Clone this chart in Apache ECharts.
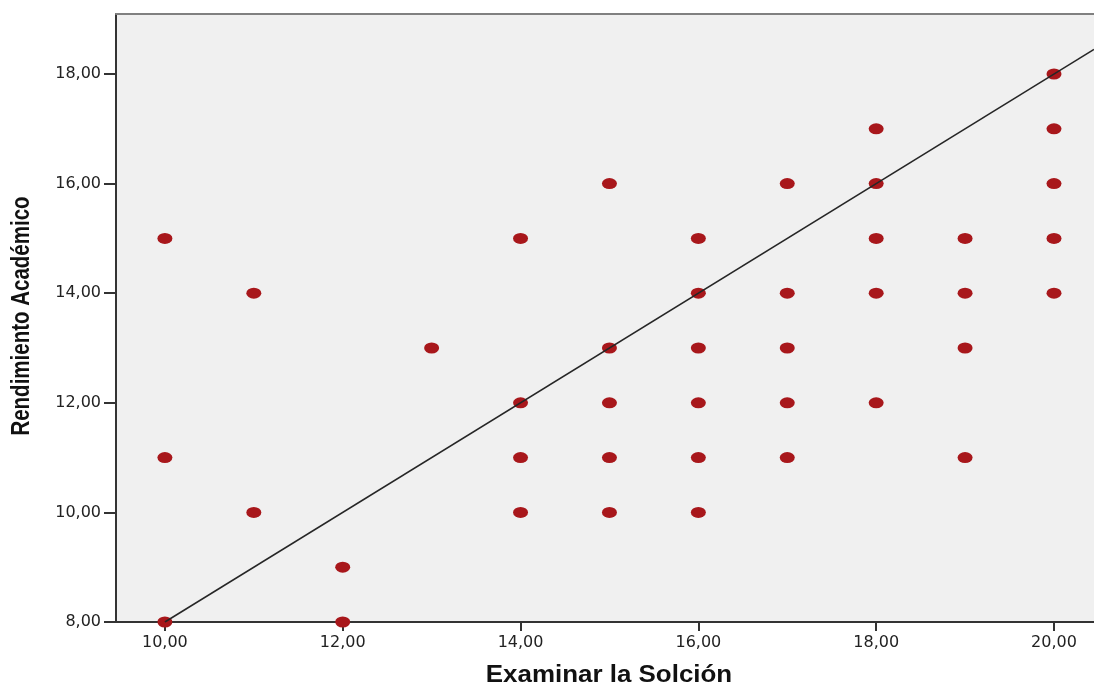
<!DOCTYPE html>
<html><head><meta charset="utf-8">
<script src="https://cdn.jsdelivr.net/npm/echarts@6/dist/echarts.min.js"></script>
<style>html,body{margin:0;padding:0;background:#fff;overflow:hidden}#c{width:1094px;height:682px}</style>
</head><body><div id="c"></div>
<script>
// Examinar la Solción (x) vs Rendimiento Académico (y)
const xValues = [10,10,10, 11,11, 12,12, 13, 14,14,14,14, 15,15,15,15,15, 16,16,16,16,16,16, 17,17,17,17,17, 18,18,18,18,18, 19,19,19,19, 20,20,20,20,20];
const yValues = [15,11,8, 14,10, 9,8, 13, 15,12,11,10, 16,13,12,11,10, 15,14,13,12,11,10, 16,14,13,12,11, 17,16,15,14,12, 15,14,13,11, 18,17,16,15,14];
const fitLine = [[10, 8], [20.45, 18.45]];
const xTicks = [10, 12, 14, 16, 18, 20];
const yTicks = [8, 10, 12, 14, 16, 18];
const xTitle = 'Examinar la Solción';
const yTitle = 'Rendimiento Académico';

const points = xValues.map((x, i) => [x, yValues[i]]);
const fmt = v => Number(v).toFixed(2).replace('.', ',');
const chart = echarts.init(document.getElementById('c'));
const xMin = 9.45, xMax = 20.45;
chart.setOption({
  backgroundColor: '#ffffff',
  animation: false,
  grid: { left: 116, right: 0, top: 14, bottom: 60, outerBoundsMode: 'none', containLabel: false,
          show: true, backgroundColor: '#f0f0f0', borderWidth: 0 },
  xAxis: [{
    type: 'value', min: xMin, max: xMax,
    axisLine: { show: true, onZero: false, lineStyle: { color: '#333', width: 2 } },
    axisTick: { show: true, length: 9, customValues: xTicks, lineStyle: { color: '#333', width: 2 } },
    axisLabel: { customValues: xTicks, formatter: fmt, fontFamily: 'DejaVu Sans', fontSize: 16, color: '#222', margin: 13 },
    splitLine: { show: false }
  }, {
    type: 'value', min: xMin, max: xMax, position: 'top',
    axisLine: { show: true, onZero: false, lineStyle: { color: '#808080', width: 2 } },
    axisTick: { show: false }, axisLabel: { show: false }, splitLine: { show: false }
  }],
  yAxis: {
    type: 'value', min: 8, max: 19.095,
    axisLine: { show: true, onZero: false, lineStyle: { color: '#333', width: 2 } },
    axisTick: { show: true, length: 12, customValues: yTicks, lineStyle: { color: '#333', width: 2 } },
    axisLabel: { customValues: yTicks, formatter: fmt, fontFamily: 'DejaVu Sans', fontSize: 16, color: '#222', margin: 15, padding: [4, 0, 0, 0] },
    splitLine: { show: false }
  },
  graphic: [
    { type: 'text', x: 609, y: 675, scaleX: 1.08, z: 10,
      style: { text: xTitle, font: 'bold 24px "Liberation Sans", Arial', fill: '#111', align: 'center', verticalAlign: 'middle' } },
    { type: 'text', x: 22, y: 316, rotation: Math.PI / 2, scaleX: 0.82, z: 10,
      style: { text: yTitle, font: 'bold 25px "Liberation Sans", Arial', fill: '#111', align: 'center', verticalAlign: 'middle' } }
  ],
  series: [
    { type: 'line', xAxisIndex: 0, data: fitLine, showSymbol: false, symbol: 'none', clip: true,
      lineStyle: { color: '#262626', width: 1.5 }, z: 3 },
    { type: 'scatter', xAxisIndex: 0, data: points, symbol: 'circle', symbolSize: [15, 11],
      itemStyle: { color: '#a8171b', opacity: 1 }, z: 2 }
  ]
});
</script></body></html>
